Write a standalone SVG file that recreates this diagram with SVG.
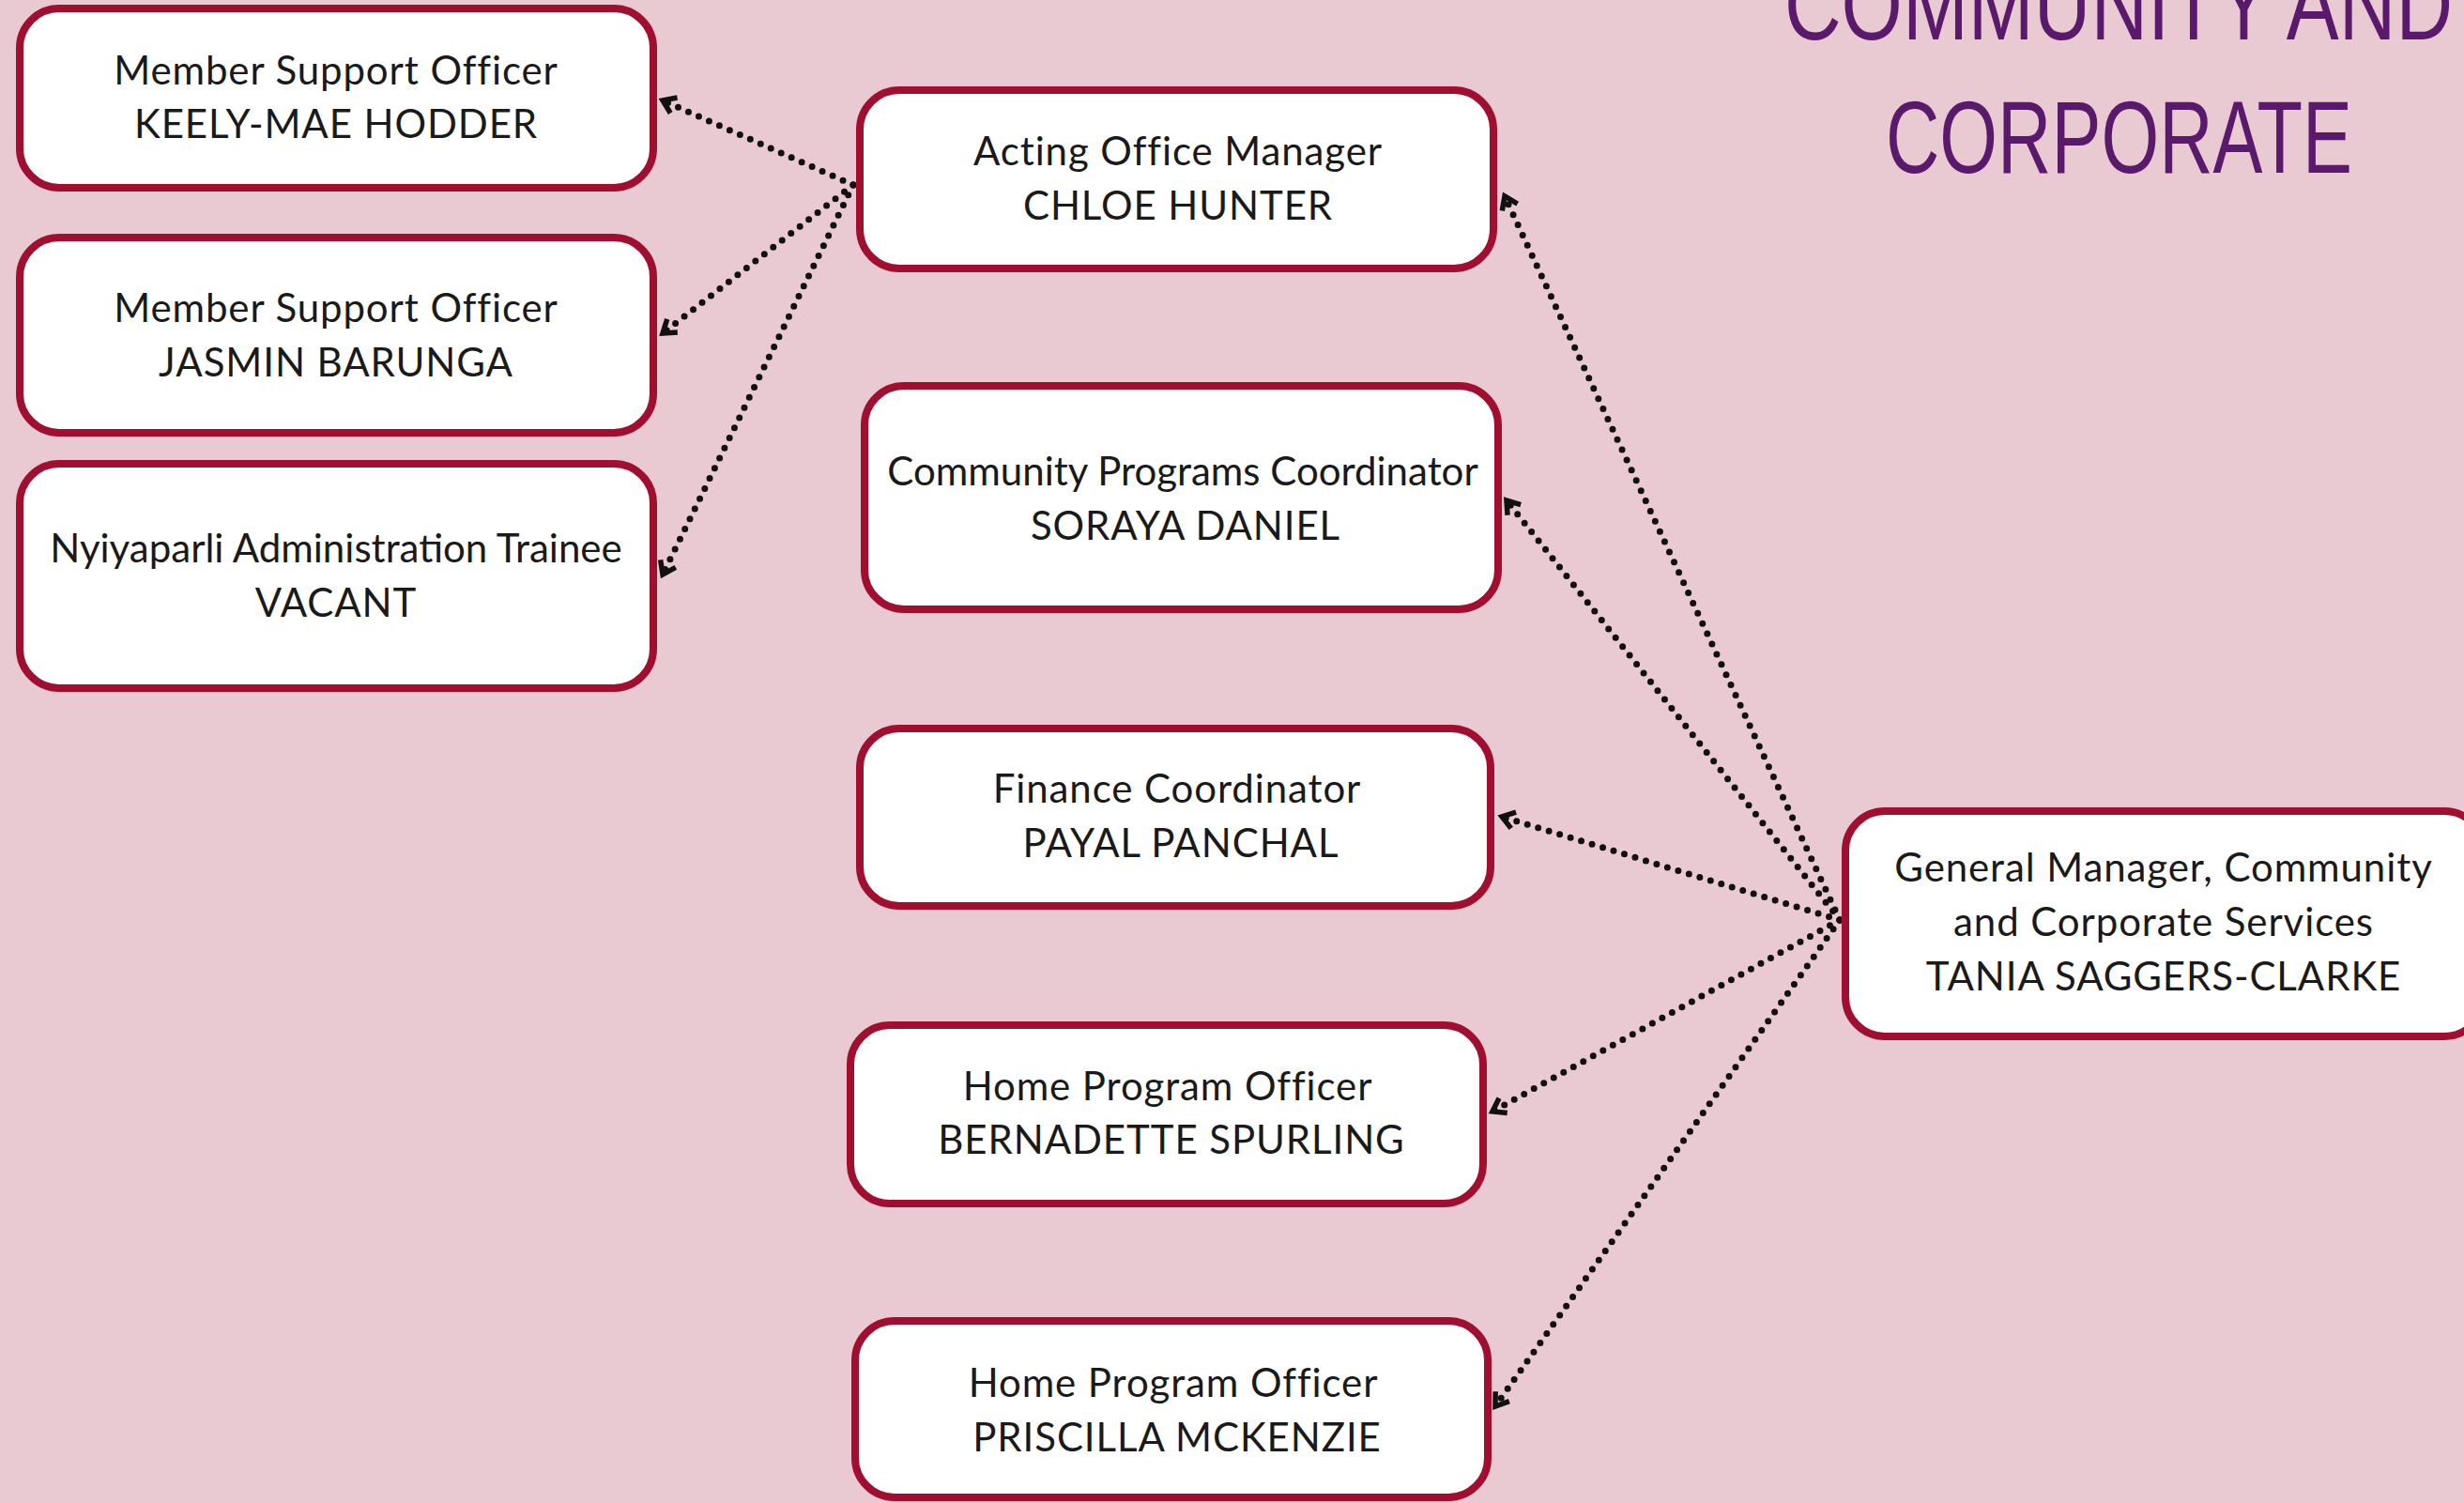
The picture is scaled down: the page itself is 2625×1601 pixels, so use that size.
<svg xmlns="http://www.w3.org/2000/svg" width="2625" height="1601" viewBox="0 0 2625 1601">
<defs>
<style>
.box{fill:#ffffff;stroke:#a00e30;stroke-width:8}
.t{font-family:Lato,"Liberation Sans",sans-serif;font-size:42px;letter-spacing:0.9px;fill:#1a1a1a;text-anchor:middle}
.title{font-family:"Liberation Sans",Arial,sans-serif;font-size:110px;fill:#5a1a6c}
.c{fill:none;stroke:#111;stroke-width:7;stroke-dasharray:0 12;stroke-linecap:round}
</style>
<marker id="ah" markerUnits="userSpaceOnUse" markerWidth="40" markerHeight="40" viewBox="-20 -20 40 40" refX="0" refY="0" orient="auto">
<path d="M-13,-9 L0,0 L-13,9" fill="none" stroke="#111" stroke-width="5.5" stroke-linejoin="miter"/>
</marker>
</defs>
<rect width="2625" height="1601" fill="#eacad2"/>
<g id="title">
<text class="title" x="1901" y="42" textLength="712" lengthAdjust="spacingAndGlyphs">COMMUNITY AND</text>
<text class="title" x="2009" y="184" textLength="497" lengthAdjust="spacingAndGlyphs">CORPORATE</text>
</g>
<g id="connectors">
<line class="c" x1="909" y1="197" x2="706" y2="107" marker-end="url(#ah)"/>
<line class="c" x1="909" y1="197" x2="706" y2="355" marker-end="url(#ah)"/>
<line class="c" x1="909" y1="197" x2="706" y2="612" marker-end="url(#ah)"/>
<line class="c" x1="1960" y1="980" x2="1603" y2="209" marker-end="url(#ah)"/>
<line class="c" x1="1960" y1="980" x2="1605" y2="533" marker-end="url(#ah)"/>
<line class="c" x1="1960" y1="980" x2="1600" y2="870" marker-end="url(#ah)"/>
<line class="c" x1="1960" y1="980" x2="1590" y2="1184" marker-end="url(#ah)"/>
<line class="c" x1="1960" y1="980" x2="1593" y2="1498" marker-end="url(#ah)"/>
</g>
<g id="n-keely">
<rect class="box" x="21" y="9" width="675" height="191" rx="42"/>
<text class="t" x="358" y="90">Member Support Officer</text>
<text class="t" x="358" y="147">KEELY-MAE HODDER</text>
</g>
<g id="n-jasmin">
<rect class="box" x="21" y="253" width="675" height="208" rx="42"/>
<text class="t" x="358" y="343">Member Support Officer</text>
<text class="t" x="358" y="401">JASMIN BARUNGA</text>
</g>
<g id="n-nyiyaparli">
<rect class="box" x="21" y="494" width="675" height="239" rx="42"/>
<text class="t" x="358" y="599" style="letter-spacing:0px">Nyiyaparli Administration Trainee</text>
<text class="t" x="358" y="657">VACANT</text>
</g>
<g id="n-chloe">
<rect class="box" x="916" y="96" width="675" height="190" rx="42"/>
<text class="t" x="1255" y="176">Acting Office Manager</text>
<text class="t" x="1255" y="234">CHLOE HUNTER</text>
</g>
<g id="n-soraya">
<rect class="box" x="921" y="411" width="675" height="238" rx="42"/>
<text class="t" x="1260" y="517" style="letter-spacing:0px">Community Programs Coordinator</text>
<text class="t" x="1263" y="575">SORAYA DANIEL</text>
</g>
<g id="n-payal">
<rect class="box" x="916" y="776" width="672" height="189" rx="42"/>
<text class="t" x="1254" y="855">Finance Coordinator</text>
<text class="t" x="1258" y="913">PAYAL PANCHAL</text>
</g>
<g id="n-bernadette">
<rect class="box" x="906" y="1092" width="674" height="190" rx="42"/>
<text class="t" x="1244" y="1172">Home Program Officer</text>
<text class="t" x="1248" y="1229">BERNADETTE SPURLING</text>
</g>
<g id="n-priscilla">
<rect class="box" x="911" y="1407" width="674" height="188" rx="42"/>
<text class="t" x="1250" y="1488">Home Program Officer</text>
<text class="t" x="1254" y="1546">PRISCILLA MCKENZIE</text>
</g>
<g id="n-gm">
<rect class="box" x="1966" y="864" width="680" height="240" rx="42"/>
<text class="t" x="2305" y="939">General Manager, Community</text>
<text class="t" x="2305" y="997">and Corporate Services</text>
<text class="t" x="2305" y="1055">TANIA SAGGERS-CLARKE</text>
</g>
</svg>
